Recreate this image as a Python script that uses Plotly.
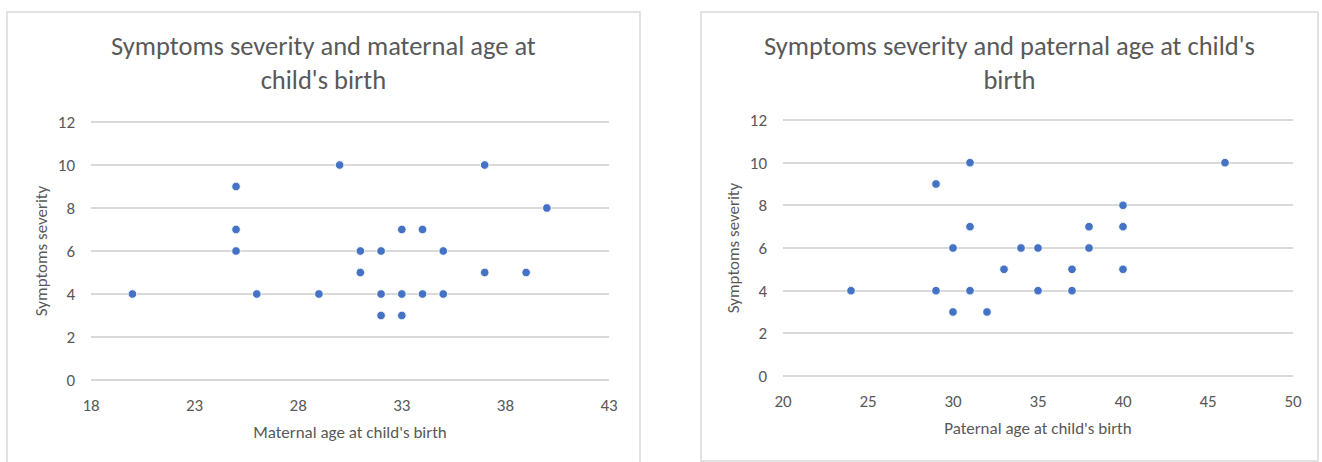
import plotly.graph_objects as go

# Data
maternal_age = [20, 25, 25, 25, 26, 29, 30, 31, 31, 32, 32, 32, 33, 33, 33, 34, 34, 35, 35, 37, 37, 39, 40]
maternal_sev = [4, 9, 7, 6, 4, 4, 10, 6, 5, 6, 4, 3, 7, 4, 3, 7, 4, 6, 4, 10, 5, 5, 8]

paternal_age = [24, 29, 29, 30, 30, 31, 31, 31, 32, 33, 34, 35, 35, 37, 37, 38, 38, 40, 40, 40, 46]
paternal_sev = [4, 9, 4, 6, 3, 10, 7, 4, 3, 5, 6, 6, 4, 5, 4, 7, 6, 8, 7, 5, 10]

left_title = "Symptoms severity and maternal age at<br>child's birth"
right_title = "Symptoms severity and paternal age at child's<br>birth"
left_xlabel = "Maternal age at child's birth"
right_xlabel = "Paternal age at child's birth"
ylabel = "Symptoms severity"
left_xticks = [18, 23, 28, 33, 38, 43]
right_xticks = [20, 25, 30, 35, 40, 45, 50]
yticks = [0, 2, 4, 6, 8, 10, 12]

W, H = 1322, 462
FONT = "Carlito, Lato, 'Open Sans', sans-serif"
TXT = "#595959"
GRID = "#d9d9d9"
BLUE = "#4472C4"
PAD = 0.1  # small y-range padding so edge gridlines are drawn

fig = go.Figure()
marker = dict(color=BLUE, size=8.5, line=dict(color="white", width=0.8))
fig.add_trace(go.Scatter(x=maternal_age, y=maternal_sev, mode="markers", marker=marker,
                         xaxis="x", yaxis="y", showlegend=False))
fig.add_trace(go.Scatter(x=paternal_age, y=paternal_sev, mode="markers", marker=marker,
                         xaxis="x2", yaxis="y2", showlegend=False))

def px_x(p):
    return p / W

def px_y(p):
    return 1 - p / H

tickfont = dict(family=FONT, size=17, color=TXT)
titlefont = dict(family=FONT, size=17, color=TXT)

def xaxis(domain, rng, ticks, title, anchor):
    return dict(domain=domain, range=rng, tickvals=ticks, showgrid=False, zeroline=False,
                showline=False, tickfont=tickfont, anchor=anchor, fixedrange=True,
                ticks="", ticklabelstandoff=11, automargin=False,
                title=dict(text=title, font=titlefont, standoff=10))

def yaxis(top, bottom, anchor):
    unit = (bottom - top) / 12.0
    domain = [px_y(bottom + PAD * unit), px_y(top - PAD * unit)]
    return dict(domain=domain, range=[-PAD, 12 + PAD], tickvals=yticks, showgrid=True,
                gridcolor=GRID, gridwidth=1.5, zeroline=False, showline=False,
                tickfont=tickfont, anchor=anchor, ticks="", ticklabelstandoff=15,
                automargin=False, fixedrange=True,
                title=dict(text=ylabel, font=titlefont, standoff=5))

fig.update_layout(
    width=W, height=H, margin=dict(l=0, r=0, t=0, b=0, autoexpand=False),
    paper_bgcolor="white", plot_bgcolor="white",
    xaxis=xaxis([px_x(91), px_x(609)], [18, 43], left_xticks, left_xlabel, "y"),
    yaxis=yaxis(122, 380, "x"),
    xaxis2=xaxis([px_x(783), px_x(1293)], [20, 50], right_xticks, right_xlabel, "y2"),
    yaxis2=yaxis(120, 376, "x2"),
    shapes=[
        dict(type="rect", xref="paper", yref="paper", x0=px_x(7), x1=px_x(640),
             y0=px_y(470), y1=px_y(12), line=dict(color=GRID, width=1.5)),
        dict(type="rect", xref="paper", yref="paper", x0=px_x(701), x1=px_x(1318),
             y0=px_y(461), y1=px_y(12), line=dict(color=GRID, width=1.5)),
    ],
    annotations=[
        dict(text=left_title, xref="paper", yref="paper", x=px_x(323), y=px_y(28),
             xanchor="center", yanchor="top", showarrow=False, align="center",
             font=dict(family=FONT, size=26.5, color=TXT)),
        dict(text=right_title, xref="paper", yref="paper", x=px_x(1009), y=px_y(28),
             xanchor="center", yanchor="top", showarrow=False, align="center",
             font=dict(family=FONT, size=26.5, color=TXT)),
    ],
)

fig.write_html("out.html")
